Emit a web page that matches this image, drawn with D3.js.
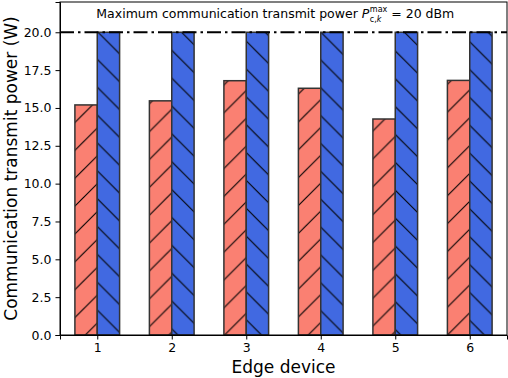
<!DOCTYPE html>
<html>
<head>
<meta charset="utf-8">
<script src="https://cdn.jsdelivr.net/npm/d3@7"></script>
<style>
  body { margin: 0; background: #fff; }
  svg { display: block; font-family: "DejaVu Sans", sans-serif; }
  text { white-space: pre; }
  .axis path, .axis line { stroke: #000; }
  .axis text { fill: #000; font-size: 12.5px; font-family: "DejaVu Sans", sans-serif; }
</style>
</head>
<body>
<svg id="chart" width="508" height="378"></svg>
<script>
// data
var devices = [1, 2, 3, 4, 5, 6];
var proposedPower = [15.2, 15.47, 16.8, 16.3, 14.27, 16.82];
var baselinePower = [20, 20, 20, 20, 20, 20];
var yTicks = [0, 2.5, 5, 7.5, 10, 12.5, 15, 17.5, 20];
var maxPower = 20;

var margin = {top: 2, right: 1, bottom: 43, left: 60},
    width = 508 - margin.left - margin.right,
    height = 378 - margin.top - margin.bottom;

var svg = d3.select("#chart");
var g = svg.append("g")
    .attr("transform", "translate(" + margin.left + "," + margin.top + ")");

var x = d3.scaleLinear().domain([0.5, 6.5]).range([0, width]);
var y = d3.scaleLinear().domain([0, 22]).range([height, 0]);
var barW = 0.3;

// hatch patterns (matplotlib-like, anchored to page)
var P = 27.86;
var defs = svg.append("defs");
function hatch(id, color, dir, shift) {
  var p = defs.append("pattern")
      .attr("id", id)
      .attr("patternUnits", "userSpaceOnUse")
      .attr("width", P).attr("height", P)
      .attr("patternTransform", "translate(" + shift + ",0)");
  p.append("rect").attr("width", P).attr("height", P).attr("fill", color);
  var segs = dir === "/" ?
    [[-2, 2, 2, -2], [0, P, P, 0], [P - 2, P + 2, P + 2, P - 2]] :
    [[-2, P - 2, 2, P + 2], [0, 0, P, P], [P - 2, -2, P + 2, 2]];
  segs.forEach(function(s) {
    p.append("line")
      .attr("x1", s[0]).attr("y1", s[1]).attr("x2", s[2]).attr("y2", s[3])
      .attr("stroke", "#000").attr("stroke-width", 1.1);
  });
}
hatch("hatchRed", "#fa8072", "/", 24);
hatch("hatchBlue", "#4169e1", "\\", 7.8);

// bars
g.selectAll(".bar-red")
  .data(devices)
  .enter().append("rect")
    .attr("class", "bar-red")
    .attr("x", function(d) { return x(d - barW); })
    .attr("width", function(d) { return x(d) - x(d - barW); })
    .attr("y", function(d, i) { return y(proposedPower[i]); })
    .attr("height", function(d, i) { return y(0) - y(proposedPower[i]); })
    .attr("fill", "url(#hatchRed)")
    .attr("stroke", "#333")
    .attr("stroke-width", 1.5);

g.selectAll(".bar-blue")
  .data(devices)
  .enter().append("rect")
    .attr("class", "bar-blue")
    .attr("x", function(d) { return x(d); })
    .attr("width", function(d) { return x(d + barW) - x(d); })
    .attr("y", function(d, i) { return y(baselinePower[i]); })
    .attr("height", function(d, i) { return y(0) - y(baselinePower[i]); })
    .attr("fill", "url(#hatchBlue)")
    .attr("stroke", "#333")
    .attr("stroke-width", 1.5);

// max power line
g.append("line")
  .attr("x1", 0).attr("x2", width)
  .attr("y1", y(maxPower)).attr("y2", y(maxPower))
  .attr("stroke", "#000")
  .attr("stroke-width", 2)
  .attr("stroke-dasharray", "14,4,2.5,4");

// axes
g.append("g")
  .attr("class", "axis")
  .attr("transform", "translate(0," + height + ")")
  .call(d3.axisBottom(x).tickValues(devices).tickFormat(d3.format("d")).tickSize(4.5).tickPadding(4));

g.append("g")
  .attr("class", "axis")
  .call(d3.axisLeft(y).tickValues(yTicks).tickFormat(d3.format(".1f")).tickSize(4.5).tickPadding(4));

// frame
g.append("rect")
  .attr("width", width).attr("height", height)
  .attr("fill", "none").attr("stroke", "#000").attr("stroke-width", 1);

// annotation with P_{c,k}^{max}
var note = g.append("g");
var fs = 12.5;
var t1 = note.append("text").attr("font-size", fs).text("Maximum communication transmit power\u00a0");
var w1 = t1.node().getComputedTextLength();
var tP = note.append("text").attr("font-size", fs).attr("font-style", "italic").attr("x", w1).text("P");
var wP = tP.node().getComputedTextLength() + 0.5;
var tSup = note.append("text").attr("font-size", 8).attr("x", w1 + wP).attr("y", -5.5).text("max");
var tSub = note.append("text").attr("font-size", 8).attr("x", w1 + wP).attr("y", 4.5);
tSub.append("tspan").text("c,");
tSub.append("tspan").attr("font-style", "italic").text("k");
var wS = Math.max(tSup.node().getComputedTextLength(), tSub.node().getComputedTextLength());
var t2 = note.append("text").attr("font-size", fs).attr("x", w1 + wP + wS).text("\u00a0= 20 dBm");
var total = w1 + wP + wS + t2.node().getComputedTextLength();
note.attr("transform", "translate(" + (x(3.39) - total / 2) + "," + y(20.97) + ")");

// axis labels
svg.append("text")
  .attr("x", margin.left + width / 2)
  .attr("y", 373)
  .attr("text-anchor", "middle")
  .attr("font-size", 17)
  .text("Edge device");

svg.append("text")
  .attr("transform", "translate(17," + (margin.top + height / 2) + ") rotate(-90)")
  .attr("text-anchor", "middle")
  .attr("font-size", 17)
  .text("Communication transmit power (W)");
</script>
</body>
</html>
